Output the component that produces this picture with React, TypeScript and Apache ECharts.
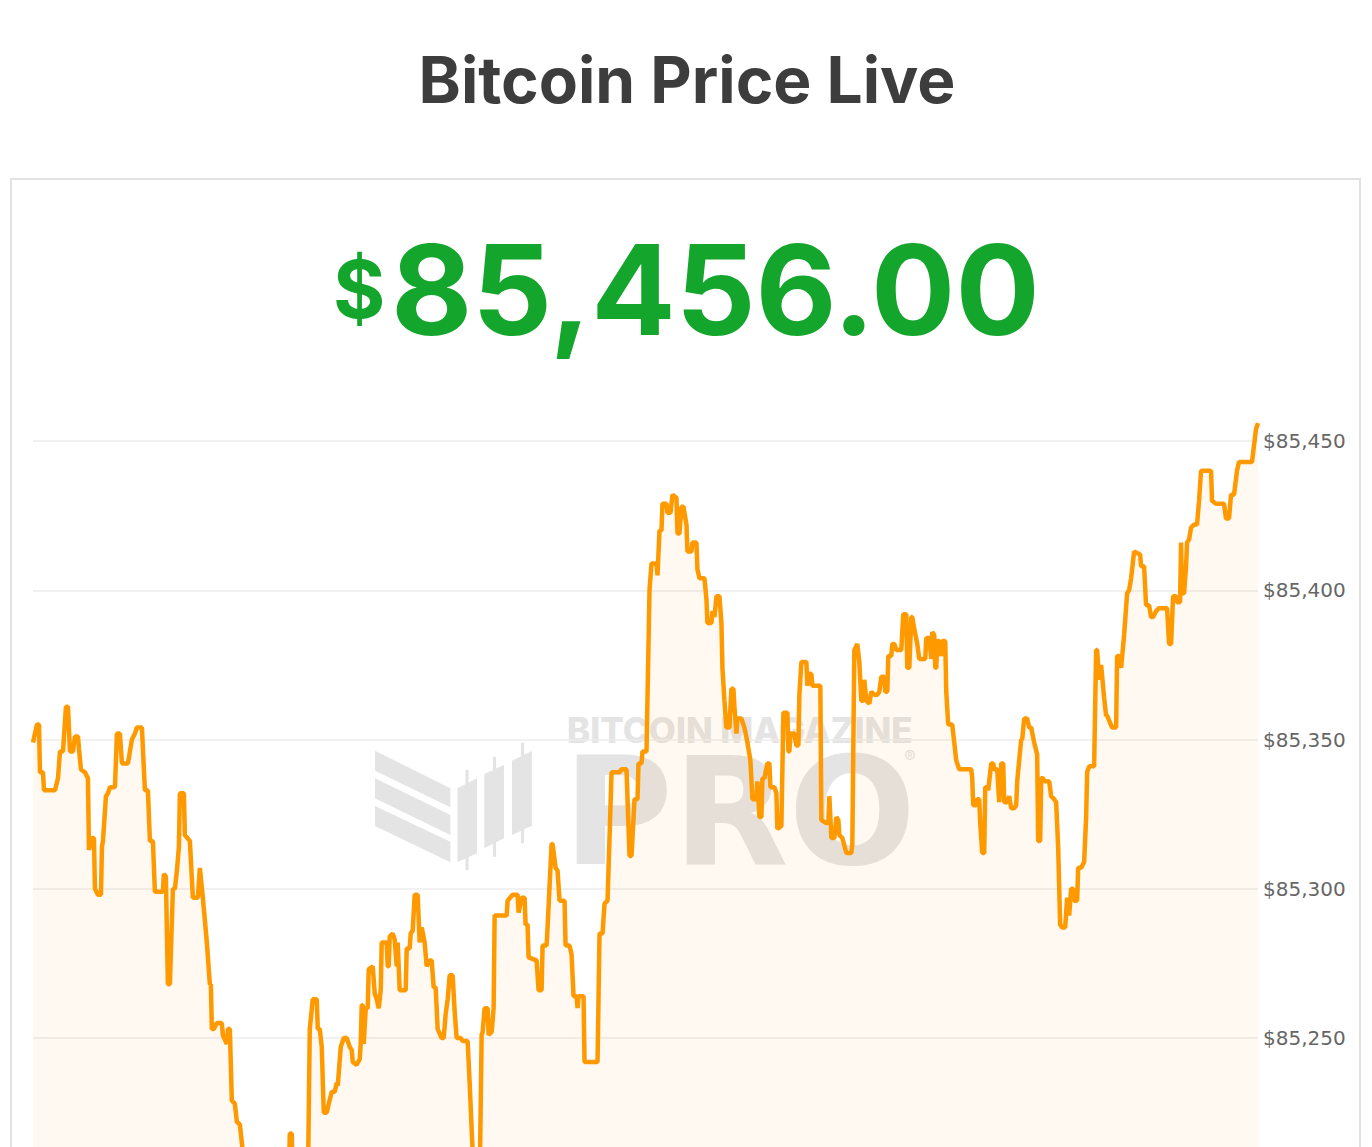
import React, { useEffect, useRef } from "react";
import * as echarts from "echarts";

const TITLE = "Bitcoin Price Live";
const CURRENCY = "$";
const CURRENT_PRICE = "85,456.00";
const WATERMARK_TOP = "BITCOIN MAGAZINE";
const WATERMARK_MAIN = "PRO";

const Y_MIN = 85150;
const Y_MAX = 85460;
const Y_STEP = 50;
const Y_LOWEST_VISIBLE_LABEL = 85250;
const T_MAX = 1226;

// [elapsed time units, price in USD]
const priceHistory: [number, number][] = [
  [0, 85349], [4, 85355], [6, 85355], [7, 85339], [10, 85339], [11, 85333], [22, 85333], [25, 85337],
  [27, 85346], [30, 85346], [33, 85361], [35, 85361], [37, 85346], [40, 85346], [42, 85351], [45, 85351],
  [46, 85347], [48, 85340], [52, 85339], [55, 85337], [56, 85313], [59, 85317], [61, 85317], [62, 85300],
  [65, 85298], [68, 85298], [69, 85314], [70, 85316], [73, 85331], [75, 85332], [77, 85334], [82, 85334],
  [84, 85352], [87, 85352], [89, 85342], [95, 85342], [99, 85350], [102, 85352], [104, 85354], [109, 85354],
  [112, 85333], [115, 85333], [117, 85316], [120, 85316], [122, 85299], [130, 85299], [131, 85305], [133, 85304],
  [135, 85268], [137, 85268], [140, 85300], [142, 85300], [144, 85306], [146, 85314], [147, 85332], [151, 85332],
  [152, 85318], [157, 85316], [160, 85297], [165, 85297], [167, 85307], [170, 85297], [174, 85282], [177, 85268],
  [178, 85268], [179, 85253], [181, 85253], [184, 85255], [189, 85255], [190, 85251], [194, 85248], [195, 85253],
  [197, 85253], [199, 85229], [202, 85228], [204, 85222], [207, 85221], [210, 85212], [212, 85200], [222, 85195],
  [232, 85190], [242, 85195], [252, 85198], [256, 85200], [257, 85218], [259, 85218], [260, 85200], [267, 85195],
  [275, 85198], [277, 85253], [280, 85263], [284, 85263], [285, 85253], [287, 85253], [289, 85247], [291, 85225],
  [294, 85225], [296, 85228], [299, 85232], [302, 85232], [304, 85235], [305, 85234], [308, 85247], [311, 85250],
  [314, 85250], [317, 85247], [319, 85246], [320, 85242], [324, 85241], [327, 85243], [328, 85248], [329, 85261],
  [330, 85261], [331, 85248], [333, 85260], [335, 85260], [336, 85273], [340, 85274], [342, 85265], [344, 85263],
  [346, 85260], [348, 85266], [349, 85282], [354, 85282], [355, 85274], [356, 85274], [357, 85284], [360, 85285],
  [362, 85283], [364, 85274], [365, 85282], [367, 85266], [373, 85266], [374, 85280], [377, 85280], [378, 85285],
  [380, 85286], [382, 85298], [385, 85298], [387, 85282], [389, 85287], [392, 85282], [394, 85274], [397, 85276],
  [399, 85276], [401, 85267], [403, 85267], [405, 85253], [409, 85250], [411, 85250], [413, 85258], [415, 85263],
  [417, 85271], [420, 85271], [422, 85259], [424, 85250], [428, 85250], [430, 85249], [435, 85249], [437, 85235],
  [440, 85212], [443, 85200], [447, 85200], [449, 85251], [450, 85252], [452, 85260], [455, 85260], [456, 85251],
  [459, 85252], [460, 85256], [461, 85260], [462, 85291], [474, 85291], [475, 85296], [480, 85298], [485, 85298],
  [486, 85292], [489, 85297], [492, 85297], [493, 85288], [495, 85288], [496, 85277], [504, 85276], [506, 85266],
  [509, 85266], [510, 85281], [514, 85281], [515, 85287], [519, 85315], [520, 85315], [523, 85307], [525, 85306],
  [527, 85296], [532, 85296], [533, 85281], [537, 85281], [539, 85278], [541, 85264], [544, 85264], [545, 85260],
  [546, 85264], [551, 85264], [552, 85242], [565, 85242], [567, 85285], [570, 85285], [572, 85295], [575, 85296],
  [577, 85317], [579, 85339], [584, 85339], [587, 85339], [589, 85340], [594, 85340], [597, 85311], [599, 85311],
  [602, 85330], [605, 85330], [606, 85342], [609, 85342], [610, 85346], [614, 85346], [617, 85400], [619, 85409],
  [624, 85409], [625, 85405], [627, 85420], [629, 85420], [630, 85429], [634, 85429], [635, 85426], [638, 85426],
  [640, 85432], [644, 85431], [645, 85419], [647, 85419], [649, 85428], [651, 85428], [654, 85422], [655, 85413],
  [659, 85413], [660, 85416], [664, 85416], [665, 85407], [667, 85404], [672, 85404], [674, 85397], [675, 85389],
  [679, 85389], [680, 85393], [682, 85391], [684, 85398], [687, 85398], [689, 85389], [690, 85374], [692, 85363],
  [694, 85354], [697, 85354], [699, 85367], [701, 85367], [702, 85361], [704, 85352], [705, 85357], [709, 85357],
  [712, 85354], [715, 85349], [718, 85343], [720, 85330], [724, 85330], [725, 85336], [727, 85324], [729, 85324],
  [730, 85337], [732, 85337], [735, 85342], [737, 85342], [738, 85334], [742, 85334], [744, 85332], [745, 85320],
  [749, 85321], [751, 85359], [755, 85359], [756, 85346], [757, 85346], [758, 85352], [762, 85352], [764, 85348],
  [766, 85348], [767, 85365], [769, 85376], [774, 85376], [775, 85368], [777, 85372], [779, 85372], [780, 85368],
  [788, 85368], [789, 85323], [794, 85322], [796, 85322], [797, 85331], [799, 85317], [802, 85317], [804, 85324],
  [806, 85323], [807, 85318], [810, 85317], [814, 85312], [819, 85312], [820, 85315], [822, 85380], [825, 85382],
  [827, 85376], [829, 85363], [831, 85363], [832, 85370], [834, 85363], [837, 85362], [839, 85366], [842, 85365],
  [845, 85365], [847, 85366], [849, 85371], [852, 85371], [853, 85366], [855, 85366], [856, 85378], [859, 85378],
  [860, 85382], [862, 85382], [864, 85380], [869, 85380], [871, 85392], [874, 85392], [875, 85374], [877, 85374],
  [879, 85391], [880, 85391], [882, 85387], [885, 85382], [887, 85377], [893, 85377], [894, 85384], [897, 85384],
  [899, 85377], [900, 85386], [902, 85385], [903, 85374], [904, 85374], [905, 85383], [907, 85383], [909, 85378],
  [910, 85383], [913, 85383], [914, 85366], [916, 85355], [920, 85355], [922, 85349], [924, 85343], [927, 85340],
  [939, 85340], [940, 85337], [941, 85328], [944, 85328], [945, 85330], [947, 85330], [948, 85322], [950, 85312],
  [952, 85312], [953, 85334], [955, 85334], [956, 85333], [959, 85342], [961, 85342], [962, 85340], [965, 85340],
  [967, 85329], [969, 85342], [971, 85342], [972, 85329], [975, 85329], [977, 85331], [979, 85327], [982, 85327],
  [984, 85328], [985, 85336], [989, 85350], [990, 85350], [992, 85357], [995, 85357], [997, 85354], [999, 85354],
  [1002, 85349], [1005, 85345], [1006, 85316], [1008, 85316], [1009, 85337], [1011, 85337], [1012, 85336], [1017, 85336],
  [1019, 85331], [1022, 85330], [1024, 85329], [1026, 85314], [1028, 85288], [1030, 85287], [1033, 85287], [1035, 85297],
  [1037, 85291], [1039, 85300], [1041, 85300], [1042, 85296], [1045, 85296], [1046, 85307], [1049, 85307], [1052, 85309],
  [1054, 85324], [1055, 85339], [1057, 85341], [1062, 85341], [1064, 85380], [1065, 85380], [1067, 85370], [1069, 85375],
  [1072, 85364], [1074, 85358], [1075, 85358], [1080, 85354], [1084, 85354], [1085, 85378], [1087, 85378], [1089, 85374],
  [1092, 85385], [1095, 85399], [1097, 85400], [1099, 85404], [1102, 85413], [1108, 85412], [1109, 85408], [1112, 85408],
  [1114, 85395], [1117, 85395], [1119, 85391], [1121, 85391], [1124, 85393], [1127, 85394], [1135, 85394], [1137, 85382],
  [1139, 85382], [1141, 85398], [1144, 85398], [1145, 85396], [1148, 85396], [1149, 85416], [1150, 85399], [1152, 85399],
  [1154, 85408], [1155, 85416], [1157, 85417], [1159, 85421], [1162, 85422], [1165, 85422], [1167, 85430], [1169, 85440],
  [1179, 85440], [1180, 85430], [1184, 85429], [1192, 85429], [1194, 85424], [1197, 85424], [1199, 85432], [1202, 85432],
  [1205, 85440], [1207, 85443], [1220, 85443], [1224, 85454], [1226, 85456],
];

const WM = "#e4e4e4";
const WM_Z = -5;

function watermark() {
  const bars = [
    [[375, 750.7], [450.4, 788.3], [450.4, 807.3], [375, 770.7]],
    [[375, 778.3], [450.4, 815], [450.4, 835], [375, 798.3]],
    [[375, 806], [450.4, 841.7], [450.4, 862.3], [375, 826]],
  ];
  const candles = [
    { body: [[457.5, 788.3], [477, 778.3], [477, 853.3], [457.5, 862.3]], wx: 467, wy0: 770, wy1: 870 },
    { body: [[484.3, 774], [504, 765], [504, 838.3], [484.3, 848.3]], wx: 494.5, wy0: 756.7, wy1: 856.7 },
    { body: [[512, 760.7], [531.8, 751], [531.8, 825.7], [512, 835]], wx: 522.5, wy0: 742.7, wy1: 843.3 },
  ];
  const els: any[] = [];
  bars.forEach((p) => els.push({ type: "polygon", z: WM_Z, silent: true, shape: { points: p }, style: { fill: WM } }));
  candles.forEach((c) => {
    els.push({ type: "rect", z: WM_Z, silent: true, shape: { x: c.wx - 1.6, y: c.wy0, width: 3.2, height: c.wy1 - c.wy0 }, style: { fill: WM } });
    els.push({ type: "polygon", z: WM_Z, silent: true, shape: { points: c.body }, style: { fill: WM } });
  });
  els.push({
    type: "text", x: 567, y: 730, z: WM_Z, silent: true,
    style: { text: WATERMARK_TOP, font: "800 35px Inter", fill: WM, textAlign: "left", textVerticalAlign: "middle" },
  });
  els.push({
    type: "text", x: 563, y: 812, z: WM_Z, silent: true,
    style: { text: WATERMARK_MAIN, font: "bold 150px 'DejaVu Sans'", fill: WM, textAlign: "left", textVerticalAlign: "middle" },
  });
  els.push({
    type: "text", x: 910, y: 757, z: WM_Z, silent: true,
    style: { text: "\u00AE", font: "400 17px Inter", fill: WM, textAlign: "center", textVerticalAlign: "middle" },
  });
  return els;
}

const CHART_H = 1400;

export default function App() {
  const ref = useRef<HTMLDivElement>(null);
  useEffect(() => {
    if (!ref.current) return;
    const chart = echarts.init(ref.current, null, { renderer: "svg" });
    chart.setOption({
      animation: false,
      backgroundColor: "#ffffff",
      grid: { left: 33, right: 114, top: 411.15, bottom: CHART_H - 1336.5, containLabel: false },
      xAxis: { type: "value", min: 0, max: T_MAX, show: false },
      yAxis: {
        type: "value",
        position: "right",
        min: Y_MIN,
        max: Y_MAX,
        interval: Y_STEP,
        z: 1,
        axisLine: { show: false },
        axisTick: { show: false },
        splitLine: { show: true, showMaxLine: false, lineStyle: { color: "#ececec", width: 1.5 } },
        axisLabel: {
          margin: 5,
          showMaxLabel: false,
          color: "#666666",
          fontFamily: "DejaVu Sans",
          fontSize: 20,
          formatter: (v: number) =>
            v % Y_STEP === 0 && v >= Y_LOWEST_VISIBLE_LABEL ? "$" + v.toLocaleString("en-US") : "",
        },
      },
      graphic: [
        {
          type: "rect", z: WM_Z, silent: true,
          shape: { x: 11, y: 179, width: 1349, height: 1400 },
          style: { fill: "none", stroke: "#e2e2e2", lineWidth: 2 },
        },
        ...watermark(),
        {
          type: "text", x: 687, y: 79, z: 10,
          style: { text: TITLE, font: "700 64px Inter", fill: "#3d3d3d", textAlign: "center", textVerticalAlign: "middle" },
        },
        {
          type: "text", x: 333, y: 288, z: 10,
          style: { text: CURRENCY, font: "700 80px Inter", fill: "#13a52c", textAlign: "left", textVerticalAlign: "middle" },
        },
        {
          type: "text", x: 391, y: 289, z: 10,
          style: { text: CURRENT_PRICE, font: "700 125px Inter", fill: "#13a52c", textAlign: "left", textVerticalAlign: "middle" },
        },
      ],
      series: [
        {
          type: "line",
          data: priceHistory,
          showSymbol: false,
          symbol: "none",
          z: 2,
          lineStyle: { color: "#ff9900", width: 4.5 },
          areaStyle: { color: "rgba(255,153,0,0.08)" },
        },
      ],
    });
    return () => chart.dispose();
  }, []);
  return (
    <div style={{ position: "absolute", left: 0, top: 0, width: 1372, height: 1147, overflow: "hidden", background: "#fff" }}>
      <div ref={ref} style={{ width: 1372, height: CHART_H }} />
    </div>
  );
}
